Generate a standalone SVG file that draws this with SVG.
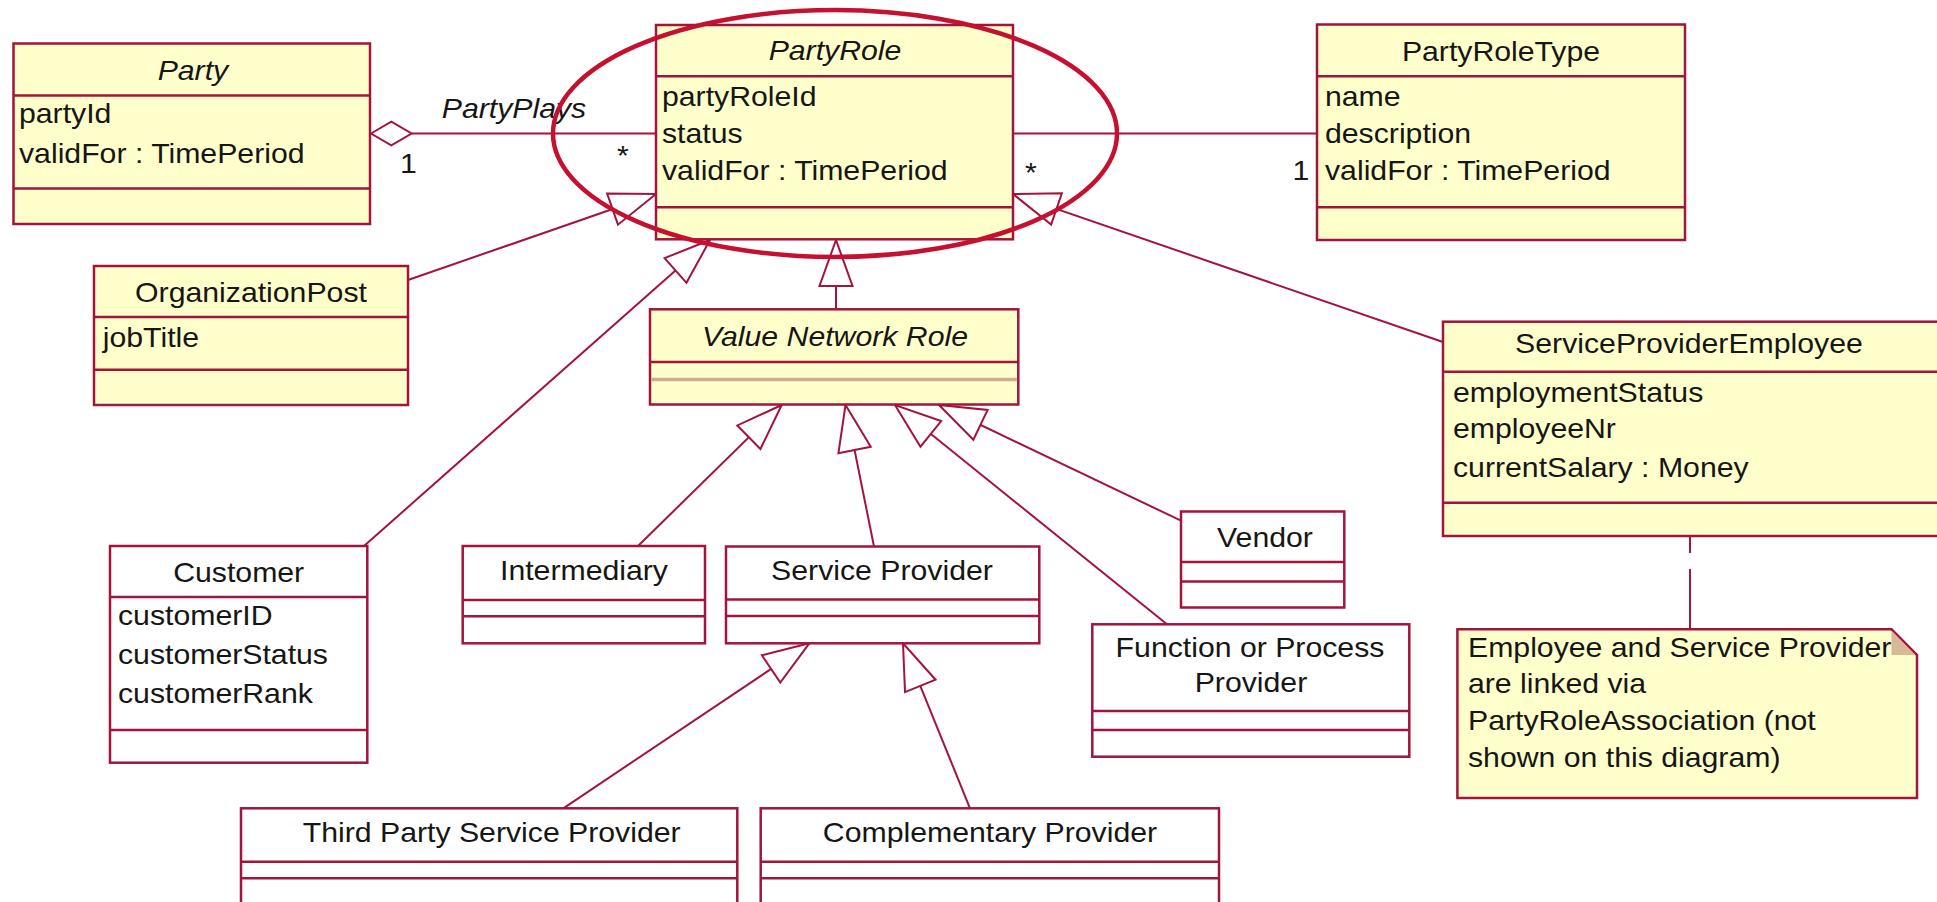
<svg xmlns="http://www.w3.org/2000/svg" width="1937" height="902" viewBox="0 0 1937 902">
  <style>
    .box{fill:#ffffcc;stroke:#a3143c;stroke-width:2.5}
    .wbox{fill:#ffffff;stroke:#a3143c;stroke-width:2.5}
    .sep{stroke:#a3143c;stroke-width:2.5}
    .tan{stroke:#d4aa8c;stroke-width:3.5}
    .t{font-family:"Liberation Sans",Arial,sans-serif;font-size:28px;fill:#161616;transform-box:fill-box;transform:scaleX(1.08)}
    .c{text-anchor:middle;transform-origin:center}
    .l{transform-origin:left center}
    .i{font-style:italic}
    .conn{stroke:#a3143c;stroke-width:2;fill:none}
    .gen{marker-end:url(#tri)}
  </style>
  <defs>
    <!-- hollow generalization triangle, tip at the line end -->
    <marker id="tri" markerUnits="userSpaceOnUse" viewBox="-50 -20 54 40" markerWidth="54" markerHeight="40" refX="0" refY="0" orient="auto" overflow="visible">
      <path d="M0,0 L-46,-16.5 L-46,16.5 Z" fill="#ffffff" stroke="#a3143c" stroke-width="2"/>
    </marker>
  </defs>

  <!-- connectors -->
  <g id="connectors">
    <line class="conn" x1="411.6" y1="133.5" x2="656" y2="133.5"/>
    <polygon points="371,133.5 391.3,121.7 411.6,133.5 391.3,145.3" fill="#ffffff" stroke="#a3143c" stroke-width="2"/>
    <line class="conn" x1="1013" y1="133.5" x2="1317" y2="133.5"/>

    <line class="conn gen" x1="408" y1="280" x2="656" y2="194"/>
    <line class="conn gen" x1="364" y1="546" x2="710" y2="240"/>
    <line class="conn gen" x1="836" y1="309.3" x2="836" y2="240"/>
    <line class="conn gen" x1="1443" y1="342" x2="1013" y2="194"/>

    <line class="conn gen" x1="638" y1="546" x2="781.7" y2="405"/>
    <line class="conn gen" x1="874" y1="546.5" x2="845.5" y2="405"/>
    <line class="conn gen" x1="1167" y1="624.3" x2="895" y2="405"/>
    <line class="conn gen" x1="1181" y1="520.7" x2="939" y2="405"/>

    <line class="conn gen" x1="563.3" y1="808.3" x2="809.3" y2="643.3"/>
    <line class="conn gen" x1="970" y1="808.3" x2="903" y2="643.3"/>

    <line class="conn" x1="1690" y1="536" x2="1690" y2="629" stroke-dasharray="17 16 70"/>

    <text class="t c i" x="514" y="118">PartyPlays</text>
    <text class="t c" x="408.5" y="173">1</text>
    <text class="t c" x="623" y="165">*</text>
    <text class="t c" x="1031" y="182">*</text>
    <text class="t c" x="1301" y="180">1</text>
  </g>

  <g id="party">
    <rect class="box" x="13.5" y="43.5" width="356.5" height="180.5"/>
    <line class="sep" x1="13.5" y1="95.5" x2="370" y2="95.5"/>
    <line class="sep" x1="13.5" y1="188.5" x2="370" y2="188.5"/>
    <text class="t c i" x="193" y="80">Party</text>
    <text class="t l" x="19" y="123">partyId</text>
    <text class="t l" x="19" y="163">validFor : TimePeriod</text>
  </g>

  <g id="party-role">
    <rect class="box" x="656" y="25" width="357" height="214.3"/>
    <line class="sep" x1="656" y1="76.3" x2="1013" y2="76.3"/>
    <line class="sep" x1="656" y1="207.3" x2="1013" y2="207.3"/>
    <text class="t c i" x="835" y="60">PartyRole</text>
    <text class="t l" x="662" y="106">partyRoleId</text>
    <text class="t l" x="662" y="143.3">status</text>
    <text class="t l" x="662" y="180">validFor : TimePeriod</text>
  </g>

  <g id="party-role-type">
    <rect class="box" x="1317" y="24.5" width="368" height="215.5"/>
    <line class="sep" x1="1317" y1="76.3" x2="1685" y2="76.3"/>
    <line class="sep" x1="1317" y1="207.3" x2="1685" y2="207.3"/>
    <text class="t c" x="1501" y="61">PartyRoleType</text>
    <text class="t l" x="1325" y="106">name</text>
    <text class="t l" x="1325" y="143.3">description</text>
    <text class="t l" x="1325" y="180">validFor : TimePeriod</text>
  </g>

  <g id="organization-post">
    <rect class="box" x="94" y="266" width="314" height="139"/>
    <line class="sep" x1="94" y1="317" x2="408" y2="317"/>
    <line class="sep" x1="94" y1="369.7" x2="408" y2="369.7"/>
    <text class="t c" x="251" y="301.7">OrganizationPost</text>
    <text class="t l" x="102.7" y="346.7">jobTitle</text>
  </g>

  <g id="value-network-role">
    <rect class="box" x="650" y="309.3" width="368.3" height="95.2"/>
    <line class="sep" x1="650" y1="362" x2="1018.3" y2="362"/>
    <line class="tan" x1="651.5" y1="379.5" x2="1016.8" y2="379.5"/>
    <text class="t c i" x="835" y="346">Value Network Role</text>
  </g>

  <g id="customer">
    <rect class="wbox" x="110" y="546" width="257.3" height="216.7"/>
    <line class="sep" x1="110" y1="597" x2="367.3" y2="597"/>
    <line class="sep" x1="110" y1="730" x2="367.3" y2="730"/>
    <text class="t c" x="238.7" y="581.7">Customer</text>
    <text class="t l" x="118" y="625">customerID</text>
    <text class="t l" x="118" y="664.5">customerStatus</text>
    <text class="t l" x="118" y="703.3">customerRank</text>
  </g>

  <g id="intermediary">
    <rect class="wbox" x="462.7" y="546" width="242.3" height="97.3"/>
    <line class="sep" x1="462.7" y1="600" x2="705" y2="600"/>
    <line class="sep" x1="462.7" y1="616.3" x2="705" y2="616.3"/>
    <text class="t c" x="584" y="580">Intermediary</text>
  </g>

  <g id="service-provider">
    <rect class="wbox" x="726" y="546.5" width="313.3" height="96.8"/>
    <line class="sep" x1="726" y1="599.5" x2="1039.3" y2="599.5"/>
    <line class="sep" x1="726" y1="616" x2="1039.3" y2="616"/>
    <text class="t c" x="882" y="580">Service Provider</text>
  </g>

  <g id="vendor">
    <rect class="wbox" x="1181" y="511.5" width="163.3" height="96"/>
    <line class="sep" x1="1181" y1="562" x2="1344.3" y2="562"/>
    <line class="sep" x1="1181" y1="581.5" x2="1344.3" y2="581.5"/>
    <text class="t c" x="1265" y="546.7">Vendor</text>
  </g>

  <g id="function-or-process-provider">
    <rect class="wbox" x="1092.3" y="624.3" width="317" height="132.4"/>
    <line class="sep" x1="1092.3" y1="711" x2="1409.3" y2="711"/>
    <line class="sep" x1="1092.3" y1="730" x2="1409.3" y2="730"/>
    <text class="t c" x="1250" y="656.7">Function or Process</text>
    <text class="t c" x="1251" y="692.3">Provider</text>
  </g>

  <g id="third-party-service-provider">
    <rect class="wbox" x="241" y="808.3" width="496.3" height="110"/>
    <line class="sep" x1="241" y1="861.7" x2="737.3" y2="861.7"/>
    <line class="sep" x1="241" y1="878.3" x2="737.3" y2="878.3"/>
    <text class="t c" x="491.7" y="841.7">Third Party Service Provider</text>
  </g>

  <g id="complementary-provider">
    <rect class="wbox" x="760.7" y="808.3" width="458.3" height="110"/>
    <line class="sep" x1="760.7" y1="861.7" x2="1219" y2="861.7"/>
    <line class="sep" x1="760.7" y1="878.3" x2="1219" y2="878.3"/>
    <text class="t c" x="990" y="841.7">Complementary Provider</text>
  </g>

  <g id="service-provider-employee">
    <rect class="box" x="1443" y="321.7" width="510" height="214.3"/>
    <line class="sep" x1="1443" y1="371.7" x2="1953" y2="371.7"/>
    <line class="sep" x1="1443" y1="502.7" x2="1953" y2="502.7"/>
    <text class="t c" x="1689" y="353">ServiceProviderEmployee</text>
    <text class="t l" x="1453" y="401.7">employmentStatus</text>
    <text class="t l" x="1453" y="438">employeeNr</text>
    <text class="t l" x="1453" y="476.7">currentSalary : Money</text>
  </g>

  <g id="note">
    <path d="M1457.4,629.3 H1891.5 L1917,655 V798 H1457.4 Z" fill="#ffffcc" stroke="#a3143c" stroke-width="2.5"/>
    <path d="M1891.5,630.5 V655 H1915.5 Z" fill="#d9b89a"/>
    <text class="t l" x="1468" y="656.7">Employee and Service Provider</text>
    <text class="t l" x="1468" y="693">are linked via</text>
    <text class="t l" x="1468" y="730">PartyRoleAssociation (not</text>
    <text class="t l" x="1468" y="766.7">shown on this diagram)</text>
  </g>

  <!-- highlight ring around PartyRole -->
  <g id="highlight">
    <ellipse cx="835" cy="133.5" rx="282" ry="123.5" fill="none" stroke="#c5102f" stroke-width="4.5"/>
  </g>
</svg>
